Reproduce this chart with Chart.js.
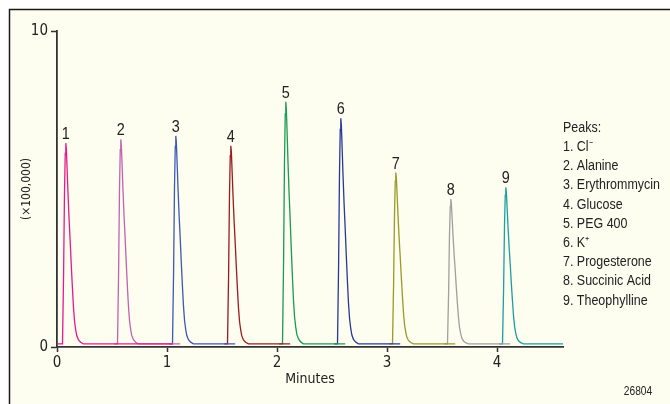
<!DOCTYPE html>
<html>
<head>
<meta charset="utf-8">
<script src="https://cdn.jsdelivr.net/npm/chart.js@4.4.1/dist/chart.umd.min.js"></script>
<style>
  html, body { margin: 0; padding: 0; background: #ffffff; }
  canvas { display: block; }
</style>
</head>
<body>
<canvas id="c" width="670" height="404"></canvas>
<script>
// ---- Data ----
const peakNumbers = ['1', '2', '3', '4', '5', '6', '7', '8', '9'];
const peakNames = ['Cl\u207B', 'Alanine', 'Erythrommycin', 'Glucose', 'PEG 400', 'K\u207A', 'Progesterone', 'Succinic Acid', 'Theophylline'];
const peakTimes = [0.08, 0.58, 1.08, 1.58, 2.08, 2.58, 3.08, 3.58, 4.08];      // minutes
const peakHeights = [6.45, 6.57, 6.68, 6.37, 7.76, 7.24, 5.52, 4.68, 5.05];   // x100,000
const traceStart = [0.00, 0.52, 1.02, 1.52, 2.02, 2.52, 3.02, 3.52, 4.02];    // minutes
const traceEnd = [1.05, 1.12, 1.62, 2.12, 2.62, 3.12, 3.62, 4.12, 4.60];      // minutes
const baseline = 0.1;
// peak shape: time offset from apex (min) and fraction of height
const profileOffsets = [-0.030, -0.020, -0.012, -0.005, 0, 0.005, 0.012, 0.020, 0.030, 0.040, 0.050, 0.060, 0.070, 0.080, 0.090, 0.100, 0.115, 0.135, 0.160];
const profileFractions = [0, 0.35, 0.75, 0.95, 1, 0.97, 0.87, 0.75, 0.62, 0.51, 0.39, 0.28, 0.18, 0.11, 0.07, 0.04, 0.02, 0.008, 0];
const traceColors = ['#e8198b', '#c462b0', '#3c5ab4', '#9b1b20', '#1a9a55', '#2a3898', '#9a9a2a', '#a0a0a0', '#1aa0a0'];
const xTicks = [0, 1, 2, 3, 4];
const yTicks = [0, 10];
const xTitle = 'Minutes';
const yTitle = '(\u00D7100,000)';
const legendTitle = 'Peaks:';
const figureId = '26804';

const FONT = "'DejaVu Sans Condensed', 'Liberation Sans Narrow', sans-serif";
const LFONT = "'Liberation Sans', Arial, sans-serif";
const TEXT = '#222222';

const datasets = peakTimes.map((t, i) => {
  const pts = [{x: traceStart[i], y: baseline}];
  profileOffsets.forEach((o, k) => {
    pts.push({x: t + o, y: baseline + (peakHeights[i] - baseline) * profileFractions[k]});
  });
  pts.push({x: traceEnd[i], y: baseline});
  return {
    label: peakNumbers[i] + '. ' + peakNames[i],
    data: pts,
    borderColor: traceColors[i],
    borderWidth: 1.3,
    pointRadius: 0,
    tension: 0,
    fill: false
  };
});

const framePlugin = {
  id: 'frame',
  beforeDraw(chart) {
    const ctx = chart.ctx;
    ctx.save();
    ctx.fillStyle = '#ffffff';
    ctx.fillRect(0, 0, chart.width, chart.height);
    ctx.fillStyle = '#fdfdf0';
    ctx.fillRect(9, 9, chart.width - 9, chart.height - 9);
    ctx.strokeStyle = '#1a1a1a';
    ctx.lineWidth = 1.5;
    ctx.beginPath();
    ctx.moveTo(9.5, chart.height);
    ctx.lineTo(9.5, 9.5);
    ctx.lineTo(chart.width, 9.5);
    ctx.stroke();
    ctx.restore();
  }
};

// draw text horizontally compressed (condensed look)
function condensedText(ctx, text, x, y, sx) {
  ctx.save();
  ctx.translate(x, y);
  ctx.scale(sx, 1);
  ctx.fillText(text, 0, 0);
  ctx.restore();
}

const annotPlugin = {
  id: 'annot',
  afterDatasetsDraw(chart) {
    const ctx = chart.ctx;
    const xs = chart.scales.x, ys = chart.scales.y;
    ctx.save();
    ctx.fillStyle = TEXT;
    // peak numbers
    ctx.font = '17px ' + LFONT;
    ctx.textAlign = 'center';
    ctx.textBaseline = 'alphabetic';
    peakTimes.forEach((t, i) => {
      condensedText(ctx, peakNumbers[i], xs.getPixelForValue(t), ys.getPixelForValue(peakHeights[i]) - 4, 0.85);
    });
    // legend text
    ctx.font = '14px ' + LFONT;
    ctx.textAlign = 'left';
    ctx.textBaseline = 'middle';
    const widest = ctx.measureText('3. ' + peakNames[2]).width;
    const sx = 97 / widest;
    const lx = chart.chartArea.right;
    let ly = 128;
    condensedText(ctx, legendTitle, lx, ly, sx);
    peakNames.forEach((n, i) => {
      ly += 19.2;
      condensedText(ctx, peakNumbers[i] + '. ' + n, lx, ly, sx);
    });
    // figure id
    ctx.font = '12px ' + LFONT;
    ctx.textAlign = 'center';
    condensedText(ctx, figureId, 638, 392, 0.85);
    ctx.restore();
  }
};

new Chart(document.getElementById('c'), {
  type: 'line',
  data: { datasets },
  plugins: [framePlugin, annotPlugin],
  options: {
    responsive: false,
    animation: false,
    layout: { padding: { left: 9, right: 107, top: 31, bottom: 0 } },
    plugins: { legend: { display: false }, tooltip: { enabled: false } },
    scales: {
      x: {
        type: 'linear',
        min: 0,
        max: 4.6,
        afterBuildTicks(s) { s.ticks = xTicks.map(v => ({value: v})); },
        afterFit(s) { s.height = 57; },
        ticks: { color: TEXT, font: { family: FONT, size: 15 }, padding: 2 },
        grid: { drawOnChartArea: false, drawTicks: true, tickLength: 5, color: '#333333', tickWidth: 1.5 },
        border: { display: true, color: '#333333', width: 1.8 },
        title: { display: true, text: xTitle, color: TEXT, font: { family: FONT, size: 14 }, padding: { top: 0, bottom: 16 } }
      },
      y: {
        type: 'linear',
        min: 0,
        max: 10,
        afterBuildTicks(s) { s.ticks = yTicks.map(v => ({value: v})); },
        afterFit(s) { s.width = 48; },
        ticks: { color: TEXT, font: { family: FONT, size: 15 }, padding: 3 },
        grid: { drawOnChartArea: false, drawTicks: true, tickLength: 6, color: '#333333', tickWidth: 1.5 },
        border: { display: true, color: '#333333', width: 1.8 },
        title: { display: true, text: yTitle, color: TEXT, font: { family: FONT, size: 12 }, padding: { top: 11, bottom: 0 } }
      }
    }
  }
});
</script>
</body>
</html>
